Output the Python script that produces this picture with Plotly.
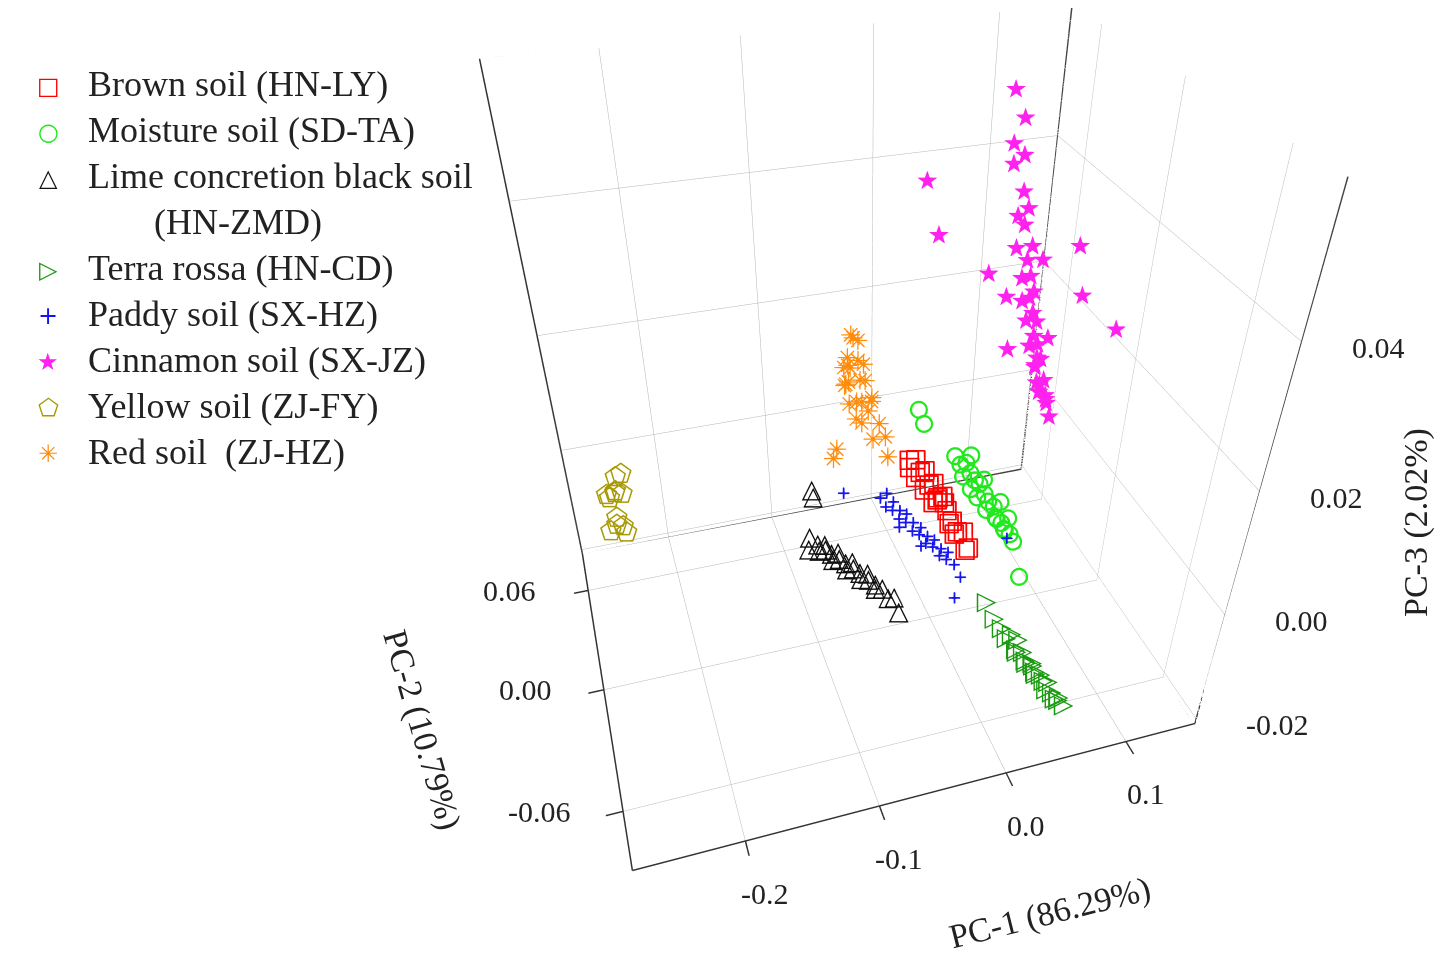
import plotly.graph_objects as go

# PCA scores (PC-1, PC-2, PC-3)
brown_x = [0.007, 0.010, 0.009, 0.013, 0.015, 0.012, 0.017, 0.019, 0.016, 0.021, 0.023, 0.020, 0.025, 0.027, 0.024, 0.029, 0.031, 0.028, 0.033, 0.032, 0.026, 0.022]
brown_y = [0.042, 0.038, 0.044, 0.036, 0.033, 0.040, 0.030, 0.027, 0.034, 0.024, 0.021, 0.028, 0.018, 0.014, 0.020, 0.010, 0.006, 0.012, 0.002, 0.004, 0.016, 0.026]
brown_z = [-0.002, -0.001, -0.004, -0.003, -0.002, -0.005, -0.004, -0.003, -0.006, -0.005, -0.004, -0.007, -0.006, -0.007, -0.005, -0.008, -0.007, -0.009, -0.009, -0.010, -0.008, -0.006]

moist_x = [0.053, 0.056, 0.059, 0.055, 0.060, 0.063, 0.058, 0.065, 0.062, 0.067, 0.069, 0.066, 0.071, 0.073, 0.070, 0.075, 0.077, 0.074, 0.079, 0.081, 0.076, 0.080, 0.068, 0.064, 0.020, 0.023, 0.077]
moist_y = [0.046, 0.043, 0.040, 0.038, 0.036, 0.034, 0.032, 0.031, 0.029, 0.027, 0.025, 0.023, 0.021, 0.019, 0.017, 0.016, 0.014, 0.012, 0.011, 0.009, 0.020, 0.015, 0.030, 0.041, 0.050, 0.047, -0.004]
moist_z = [-0.004, -0.005, -0.004, -0.006, -0.005, -0.006, -0.007, -0.006, -0.008, -0.007, -0.008, -0.009, -0.008, -0.010, -0.009, -0.010, -0.011, -0.010, -0.011, -0.012, -0.007, -0.009, -0.005, -0.003, 0.005, 0.003, -0.015]

lime_x = [-0.100, -0.097, -0.094, -0.092, -0.090, -0.088, -0.086, -0.084, -0.082, -0.080, -0.078, -0.076, -0.074, -0.072, -0.070, -0.068, -0.066, -0.064, -0.062, -0.060, -0.058, -0.055, -0.052, -0.050, -0.095, -0.093]
lime_y = [0.014, 0.018, 0.010, 0.012, 0.006, 0.009, 0.003, 0.005, 0.000, 0.002, -0.004, -0.002, -0.007, -0.005, -0.011, -0.009, -0.015, -0.013, -0.019, -0.016, -0.022, -0.025, -0.028, -0.031, 0.015, 0.017]
lime_z = [-0.014, -0.013, -0.012, -0.014, -0.011, -0.013, -0.012, -0.014, -0.011, -0.013, -0.012, -0.014, -0.011, -0.013, -0.012, -0.014, -0.011, -0.013, -0.012, -0.014, -0.012, -0.013, -0.012, -0.014, -0.003, -0.005]

terra_x = [0.011, 0.015, 0.019, 0.021, 0.024, 0.026, 0.028, 0.030, 0.031, 0.033, 0.035, 0.036, 0.038, 0.039, 0.041, 0.042, 0.044, 0.045, 0.047, 0.048, 0.049, 0.051, 0.037, 0.029]
terra_y = [-0.046, -0.050, -0.053, -0.056, -0.057, -0.060, -0.059, -0.062, -0.064, -0.063, -0.066, -0.068, -0.067, -0.070, -0.071, -0.073, -0.072, -0.075, -0.076, -0.078, -0.077, -0.080, -0.065, -0.058]
terra_z = [-0.010, -0.012, -0.013, -0.014, -0.013, -0.015, -0.016, -0.015, -0.016, -0.017, -0.016, -0.017, -0.018, -0.017, -0.018, -0.019, -0.018, -0.019, -0.020, -0.019, -0.020, -0.020, -0.017, -0.014]

paddy_x = [-0.026, -0.023, -0.021, -0.019, -0.017, -0.015, -0.013, -0.011, -0.009, -0.007, -0.005, -0.003, -0.001, 0.001, 0.003, 0.005, 0.007, 0.009, 0.011, 0.013, 0.015, 0.017, 0.019, -0.016, -0.004, -0.058, 0.072, 0.008]
paddy_y = [0.031, 0.028, 0.030, 0.025, 0.027, 0.022, 0.024, 0.019, 0.021, 0.016, 0.018, 0.013, 0.014, 0.010, 0.011, 0.007, 0.008, 0.004, 0.005, 0.001, 0.002, -0.003, -0.008, 0.020, 0.009, 0.032, 0.006, -0.016]
paddy_z = [-0.005, -0.006, -0.004, -0.006, -0.005, -0.007, -0.006, -0.007, -0.006, -0.008, -0.007, -0.008, -0.007, -0.009, -0.008, -0.009, -0.008, -0.010, -0.009, -0.010, -0.009, -0.010, -0.011, -0.008, -0.009, -0.003, -0.010, -0.012]

cinn_x = [0.053, 0.058, 0.057, 0.062, 0.060, 0.065, 0.068, 0.066, 0.070, 0.072, 0.069, 0.074, 0.076, 0.073, 0.078, 0.080, 0.077, 0.082, 0.084, 0.081, 0.086, 0.088, 0.085, 0.090, 0.092, 0.089, 0.094, 0.096, 0.093, 0.098, 0.100, 0.097, 0.102, 0.104, 0.106, 0.010, 0.021, 0.137, 0.110, 0.105, 0.095, 0.072, 0.060, 0.082, 0.091]
cinn_y = [0.012, 0.008, 0.014, 0.010, 0.016, 0.011, 0.009, 0.015, 0.013, 0.007, 0.017, 0.012, 0.010, 0.014, 0.008, 0.013, 0.016, 0.011, 0.009, 0.015, 0.012, 0.010, 0.014, 0.008, 0.013, 0.011, 0.016, 0.009, 0.012, 0.014, 0.010, 0.013, 0.011, 0.012, 0.010, 0.035, 0.035, -0.005, 0.000, 0.002, 0.020, 0.025, 0.030, 0.030, 0.005]
cinn_z = [0.053, 0.050, 0.046, 0.045, 0.043, 0.040, 0.038, 0.036, 0.035, 0.033, 0.031, 0.030, 0.028, 0.027, 0.026, 0.024, 0.023, 0.022, 0.021, 0.020, 0.018, 0.017, 0.016, 0.015, 0.014, 0.013, 0.012, 0.011, 0.010, 0.009, 0.008, 0.008, 0.007, 0.006, 0.004, 0.039, 0.031, 0.021, 0.026, 0.033, 0.028, 0.022, 0.025, 0.012, 0.019]

yellow_x = [-0.253, -0.248, -0.245, -0.250, -0.242, -0.255, -0.246, -0.240, -0.251, -0.247, -0.244, -0.257]
yellow_y = [0.062, 0.058, 0.065, 0.055, 0.060, 0.068, 0.052, 0.063, 0.057, 0.066, 0.054, 0.060]
yellow_z = [-0.011, -0.009, -0.008, -0.013, -0.010, -0.012, -0.014, -0.007, -0.015, -0.011, -0.016, -0.017]

red_x = [-0.058, -0.055, -0.062, -0.050, -0.066, -0.060, -0.053, -0.057, -0.064, -0.048, -0.059, -0.052, -0.061, -0.056, -0.046, -0.050, -0.058, -0.043, -0.054, -0.040, -0.036, -0.047, -0.032, -0.070, -0.074, -0.038, -0.029, -0.044]
red_y = [0.020, 0.022, 0.018, 0.024, 0.016, 0.021, 0.019, 0.023, 0.017, 0.020, 0.022, 0.018, 0.024, 0.016, 0.021, 0.019, 0.023, 0.017, 0.020, 0.022, 0.018, 0.024, 0.016, 0.021, 0.019, 0.023, 0.017, 0.020]
red_z = [0.021, 0.020, 0.018, 0.019, 0.017, 0.016, 0.017, 0.015, 0.014, 0.016, 0.013, 0.014, 0.012, 0.011, 0.013, 0.010, 0.009, 0.011, 0.007, 0.009, 0.006, 0.005, 0.004, 0.002, 0.001, 0.002, 0.000, 0.008]

x_ticks = [-0.2, -0.1, 0.0, 0.1]
x_labels = ["-0.2", "-0.1", "0.0", "0.1"]
x_minor = [-0.25, -0.15, -0.05, 0.05, 0.15]
y_ticks = [-0.06, 0.0, 0.06]
y_labels = ["-0.06", "0.00", "0.06"]
y_minor = [-0.03, 0.03]
z_ticks = [-0.02, 0.0, 0.02, 0.04]
z_labels = ["-0.02", "0.00", "0.02", "0.04"]
z_minor = [-0.01, 0.01, 0.03, 0.05]

x_rng = [-0.28, 0.16]
y_rng = [-0.085, 0.085]
z_rng = [-0.021, 0.058]

serif = "Liberation Serif"
glyph_font = "DejaVu Sans"
ink = "#222"

# name, colour, glyph used in legend, data
groups = [
    ("Brown soil (HN-LY)", "#ff0000", "□", brown_x, brown_y, brown_z),
    ("Moisture soil (SD-TA)", "#22e81e", "○", moist_x, moist_y, moist_z),
    ("Lime concretion black soil", "#111111", "△", lime_x, lime_y, lime_z),
    ("Terra rossa (HN-CD)", "#1a9a10", "▷", terra_x, terra_y, terra_z),
    ("Paddy soil (SX-HZ)", "#1515ee", "+", paddy_x, paddy_y, paddy_z),
    ("Cinnamon soil (SX-JZ)", "#ff22ee", "★", cinn_x, cinn_y, cinn_z),
    ("Yellow soil (ZJ-FY)", "#a89a05", "⬠", yellow_x, yellow_y, yellow_z),
    ("Red soil  (ZJ-HZ)", "#ff8c0a", "✳", red_x, red_y, red_z),
]

fig = go.Figure()

# frame of the two back walls and the right front edge
x0, x1 = x_rng
y0, y1 = y_rng
z0, z1 = z_rng
frame_x = [x0, x1, x1, x0, x0, None, x1, x1, x1, x1, None, x1, x1]
frame_y = [y1, y1, y1, y1, y1, None, y1, y0, y0, y1, None, y0, y0]
frame_z = [z0, z0, z1, z1, z0, None, z1, z1, z0, z0, None, z0, z1]
fig.add_trace(go.Scatter3d(x=frame_x, y=frame_y, z=frame_z, mode="lines",
                           line=dict(color="#444", width=3), hoverinfo="skip"))

# z ticks drawn on the right front edge, x/y minor ticks
tx, ty, tz = [], [], []
for v in z_ticks:
    tx += [x1, x1 + 0.016, None]; ty += [y0, y0, None]; tz += [v, v, None]
for v in z_minor:
    tx += [x1, x1 + 0.009, None]; ty += [y0, y0, None]; tz += [v, v, None]
for v in x_minor:
    tx += [v, v, None]; ty += [y0, y0 - 0.007, None]; tz += [z0, z0, None]
for v in y_minor:
    tx += [x0, x0 - 0.011, None]; ty += [v, v, None]; tz += [z0, z0, None]
fig.add_trace(go.Scatter3d(x=tx, y=ty, z=tz, mode="lines",
                           line=dict(color="#333", width=3), hoverinfo="skip"))

marker_traces = {
    "□": dict(symbol="square-open", size=8),
    "○": dict(symbol="circle-open", size=10),
    "+": dict(symbol="cross", size=6),
}

for name, col, g, xs, ys, zs in groups:
    if g in marker_traces:
        m = marker_traces[g]
        fig.add_trace(go.Scatter3d(
            x=xs, y=ys, z=zs, mode="markers", name=name,
            marker=dict(symbol=m["symbol"], size=m["size"], color=col,
                        line=dict(color=col, width=3)),
        ))
    else:
        fig.add_trace(go.Scatter3d(
            x=xs, y=ys, z=zs, mode="text", name=name,
            text=[g] * len(xs),
            textfont=dict(family=glyph_font, size=26, color=col),
        ))

W, H = 1450, 960

# legend drawn by hand so the glyphs match
legend_rows = [82, 128, 174, 266, 312, 358, 404, 450]
for (name, col, g, *_), ypx in zip(groups, legend_rows):
    fig.add_annotation(x=40 / W, y=1 - (ypx - 4) / H, text=g, xanchor="center",
                       font=dict(family=glyph_font, size=24, color=col))
    fig.add_annotation(x=78 / W, y=1 - (ypx - 6) / H, text=name, xanchor="left",
                       font=dict(family=serif, size=36, color=ink))
fig.add_annotation(x=144 / W, y=1 - (220 - 6) / H, text="(HN-ZMD)", xanchor="left",
                   font=dict(family=serif, size=36, color=ink))
# axis titles
fig.add_annotation(x=1408 / W, y=1 - 515 / H, text="PC-3 (2.02%)", textangle=-90,
                   xanchor="center", font=dict(family=serif, size=34, color=ink))
fig.add_annotation(x=1042 / W, y=1 - 905 / H, text="PC-1 (86.29%)", textangle=-14,
                   xanchor="center", font=dict(family=serif, size=34, color=ink))
fig.add_annotation(x=414 / W, y=1 - 722 / H, text="PC-2 (10.79%)", textangle=74,
                   xanchor="center", font=dict(family=serif, size=34, color=ink))
fig.update_annotations(xref="paper", yref="paper", yanchor="middle", showarrow=False)

# tick labels as scene annotations so they keep a plain pixel size
tick_font = dict(family=serif, size=30, color=ink)
scene_ann = []
for v, t in zip(x_ticks, x_labels):
    scene_ann.append(dict(x=v, y=y0, z=z0, text=t, showarrow=False, font=tick_font,
                          xanchor="center", yanchor="top", xshift=20, yshift=-34))
for v, t in zip(y_ticks, y_labels):
    scene_ann.append(dict(x=x0, y=v, z=z0, text=t, showarrow=False, font=tick_font,
                          xanchor="right", yanchor="middle", xshift=-50, yshift=0))
for v, t in zip(z_ticks, z_labels):
    scene_ann.append(dict(x=x1, y=y0, z=v, text=t, showarrow=False, font=tick_font,
                          xanchor="left", yanchor="middle", xshift=48, yshift=-6))

axis_common = dict(
    showbackground=False,
    gridcolor="#b5b5b5",
    gridwidth=1,
    showline=True,
    linecolor="#333",
    linewidth=3,
    ticks="outside",
    tickcolor="#333",
    ticklen=14,
    tickwidth=3,
    showticklabels=False,
    zeroline=False,
    showspikes=False,
    title=dict(text=""),
)

fig.update_layout(
    width=W, height=H,
    paper_bgcolor="white",
    showlegend=False,
    margin=dict(l=0, r=0, t=0, b=0),
    scene=dict(
        domain=dict(x=[0.24, 0.94], y=[0.04, 1.0]),
        xaxis=dict(axis_common, range=x_rng, tickvals=x_ticks),
        yaxis=dict(axis_common, range=y_rng, tickvals=y_ticks),
        zaxis=dict(axis_common, range=z_rng, tickvals=z_ticks, ticks=""),
        annotations=scene_ann,
        aspectmode="manual",
        aspectratio=dict(x=1.16, y=0.9, z=1.19),
        camera=dict(eye=dict(x=-0.515, y=-1.684, z=1.233), center=dict(x=0, y=0, z=-0.13)),
    ),
)

fig.write_html("out.html")
